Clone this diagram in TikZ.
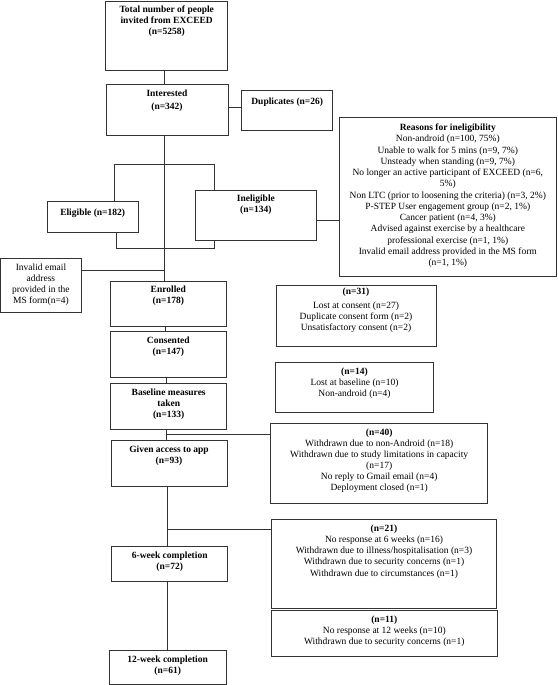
\documentclass[tikz,border=0pt]{standalone}
\usepackage{fontspec}
\setmainfont{Liberation Serif}
\usetikzlibrary{fit}
\begin{document}
\begin{tikzpicture}[x=1pt,y=-1pt,
  box/.style={draw=black!80, line width=0.9pt, inner sep=0pt, rectangle},
  txt/.style={anchor=north, inner sep=0pt, align=center,
    font=\fontsize{9.5}{11.1}\selectfont, execute at begin node=\strut},
  txtb/.style={txt, font=\fontsize{9.5}{11.1}\selectfont\bfseries},
  ln/.style={draw=black!80, line width=0.8pt}]
\useasboundingbox (0,0) rectangle (557,685);

% boxes
\node[box, fit={(105.7,1) (227.7,70.3)}] (total) {};
\node[box, fit={(106,84.3) (228,135)}] (interested) {};
\node[box, fit={(241.7,90) (332.7,130)}] (dup) {};
\node[box, fit={(47,201) (138.3,232.3)}] (elig) {};
\node[box, fit={(195,190) (316.7,240)}] (inel) {};
\node[box, fit={(339.3,117.3) (556.3,276)}] (reasons) {};
\node[box, fit={(0.6,258.3) (81.3,312.7)}] (invalid) {};
\node[box, fit={(110.3,281) (226.3,326)}] (enrolled) {};
\node[box, fit={(110.3,331.3) (226.3,377)}] (consented) {};
\node[box, fit={(110.7,383.3) (226.7,429)}] (baseline) {};
\node[box, fit={(111,440.3) (227,486)}] (given) {};
\node[box, fit={(111.7,546.7) (227.7,581)}] (sixw) {};
\node[box, fit={(109.3,650.3) (226,684.4)}] (twelvew) {};
\node[box, fit={(276,285.7) (436,346.7)}] (n31) {};
\node[box, fit={(275.7,362.7) (433.3,412.3)}] (n14) {};
\node[box, fit={(270.7,423.3) (487.7,503.7)}] (n40) {};
\node[box, fit={(271.3,519.3) (496.7,608.3)}] (n21) {};
\node[box, fit={(271.3,610.7) (497.3,656.7)}] (n11) {};

% texts
\node[txtb] (total-t) at ([yshift=-5pt]total.north) {Total number of people\\invited from EXCEED\\(n=5258)};
\node[txtb] (interested-t) at ([yshift=-5.5pt]interested.north) {Interested\\[2.5pt](n=342)};
\node[txtb] (dup-t) at ([yshift=-6.5pt]dup.north) {Duplicates (n=26)};
\node[txtb] (elig-t) at ([yshift=-6.5pt]elig.north) {Eligible (n=182)};
\node[txtb] (inel-t) at ([yshift=-5.5pt]inel.north) {Ineligible\\(n=134)};
\node[txt, font=\fontsize{9.5}{11.25}\selectfont] (reasons-t) at ([yshift=-6.8pt]reasons.north) {\textbf{Reasons for ineligibility}\\
Non-android (n=100, 75\%)\\
Unable to walk for 5 mins (n=9, 7\%)\\
Unsteady when standing (n=9, 7\%)\\
No longer an active participant of EXCEED (n=6,\\
5\%)\\
Non LTC (prior to loosening the criteria) (n=3, 2\%)\\
P-STEP User engagement group (n=2, 1\%)\\
Cancer patient (n=4, 3\%)\\
Advised against exercise by a healthcare\\
professional exercise (n=1, 1\%)\\
Invalid email address provided in the MS form\\
(n=1, 1\%)};
\node[txt] (invalid-t) at ([yshift=-5.5pt]invalid.north) {Invalid email\\address\\provided in the\\MS form(n=4)};
\node[txtb] (enrolled-t) at ([yshift=-5.5pt]enrolled.north) {Enrolled\\(n=178)};
\node[txtb] (consented-t) at ([yshift=-5.5pt]consented.north) {Consented\\(n=147)};
\node[txtb] (baseline-t) at ([yshift=-5.5pt]baseline.north) {Baseline measures\\taken\\(n=133)};
\node[txtb] (given-t) at ([yshift=-5.5pt]given.north) {Given access to app\\(n=93)};
\node[txtb] (sixw-t) at ([yshift=-5.5pt]sixw.north) {6-week completion\\(n=72)};
\node[txtb] (twelvew-t) at ([yshift=-5.5pt]twelvew.north) {12-week completion\\(n=61)};
\node[txt] (n31-t) at ([yshift=-2.8pt]n31.north) {\textbf{(n=31)}\\[2.8pt]Lost at consent (n=27)\\Duplicate consent form (n=2)\\Unsatisfactory consent (n=2)};
\node[txt] (n14-t) at ([yshift=-5.5pt]n14.north) {\textbf{(n=14)}\\Lost at baseline (n=10)\\Non-android (n=4)};
\node[txt] (n40-t) at ([yshift=-5.5pt]n40.north) {\textbf{(n=40)}\\Withdrawn due to non-Android (n=18)\\Withdrawn due to study limitations in capacity\\(n=17)\\No reply to Gmail email (n=4)\\Deployment closed (n=1)};
\node[txt, font=\fontsize{9.5}{11.25}\selectfont] (n21-t) at ([yshift=-5.5pt]n21.north) {\textbf{(n=21)}\\No response at 6 weeks (n=16)\\Withdrawn due to illness/hospitalisation (n=3)\\Withdrawn due to security concerns (n=1)\\Withdrawn due to circumstances (n=1)};
\node[txt] (n11-t) at ([yshift=-5.5pt]n11.north) {\textbf{(n=11)}\\No response at 12 weeks (n=10)\\Withdrawn due to security concerns (n=1)};

% trunk reference coordinates
\coordinate (tr1) at (164.7,0);
\coordinate (tr2) at (165.7,0);
\coordinate (tr3) at (166.1,0);
\coordinate (tr4) at (166.7,0);
\coordinate (tr5) at (167.1,0);
\coordinate (tr6) at (167.7,0);
\coordinate (dupy) at (0,107.3);
\coordinate (ry) at (0,220);
\coordinate (iy) at (0,270);
\coordinate (j40) at (166.7,434);
\coordinate (j21) at (167.1,529.3);
\coordinate (bl) at (114.7,164.3);
\coordinate (br) at (214.3,164.3);
\coordinate (bl2) at (116,248.3);
\coordinate (br2) at (214.3,248.3);

% connectors
\draw[ln] (total.south -| tr1) -- (interested.north -| tr1);
\draw[ln] (interested.east |- dupy) -- (dup.west |- dupy);
\draw[ln] (interested.south -| tr1) -- (enrolled.north -| tr1);
\draw[ln] (elig.north -| bl) -- (bl) -- (br) -- (inel.north -| br);
\draw[ln] (elig.south -| bl2) -- (bl2) -- (br2) -- (inel.south -| br2);
\draw[ln] (inel.east |- ry) -- (reasons.west |- ry);
\draw[ln] (invalid.east |- iy) -- (iy -| tr1);
\draw[ln] (enrolled.south -| tr2) -- (consented.north -| tr2);
\draw[ln] (consented.south -| tr3) -- (baseline.north -| tr3);
\draw[ln] (baseline.south -| tr4) -- (given.north -| tr4);
\draw[ln] (j40) -- (n40.west |- j40);
\draw[ln] (given.south -| tr5) -- (sixw.north -| tr5);
\draw[ln] (j21) -- (n21.west |- j21);
\draw[ln] (sixw.south -| tr6) -- (twelvew.north -| tr6);
\end{tikzpicture}
\end{document}
